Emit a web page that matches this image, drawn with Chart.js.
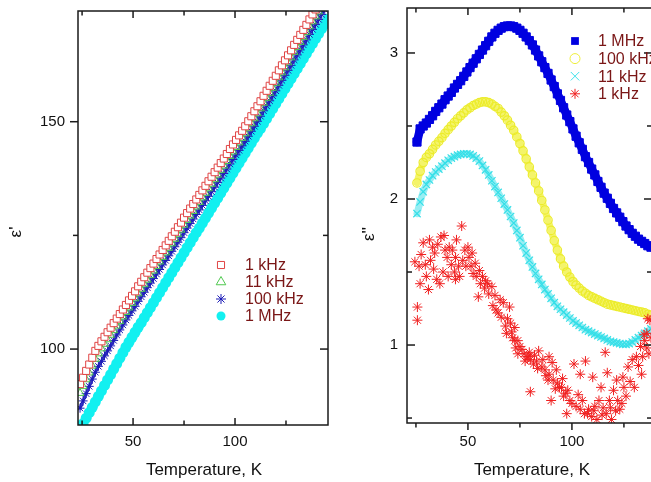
<!DOCTYPE html>
<html><head><meta charset="utf-8">
<script src="https://cdn.jsdelivr.net/npm/chart.js"></script>
<style>
html,body{margin:0;padding:0;background:#fff;overflow:hidden;width:651px;height:482px;}
#wl{position:absolute;left:0;top:0;width:340px;height:482px;}
#wr{position:absolute;left:330px;top:0;width:340px;height:482px;}
</style></head><body>
<div id="wl"><canvas id="cl" width="340" height="482"></canvas></div>
<div id="wr"><canvas id="cr" width="340" height="482"></canvas></div>
<script>
// ---------- LEFT PANEL: eps' vs T ----------
const tempL = [24,25.5,27,28.5,30,31.5,33,34.5,36,37.5,39,40.5,42,43.5,45,46.5,48,49.5,51,52.5,54,55.5,57,58.5,60,61.5,63,64.5,66,67.5,69,70.5,72,73.5,75,76.5,78,79.5,81,82.5,84,85.5,87,88.5,90,91.5,93,94.5,96,97.5,99,100.5,102,103.5,105,106.5,108,109.5,111,112.5,114,115.5,117,118.5,120,121.5,123,124.5,126,127.5,129,130.5,132,133.5,135,136.5,138,139.5,141,142.5,144,145.5];
const epsL_1kHz = [92.3,93.7,95.2,96.6,98.1,99.6,100.7,101.7,102.7,103.7,104.7,105.7,106.7,107.7,108.7,109.7,110.7,111.7,112.7,113.8,114.8,115.8,116.8,117.8,118.8,119.8,120.8,121.8,122.8,123.8,124.8,125.8,126.8,127.8,128.9,129.9,130.9,131.9,132.9,133.9,134.9,135.9,136.9,137.9,138.9,139.9,140.9,141.9,142.9,144.0,145.0,146.0,147.0,148.0,149.0,150.1,151.2,152.3,153.4,154.5,155.7,156.8,157.9,159.0,160.1,161.3,162.4,163.5,164.6,165.7,166.9,168.0,169.1,170.2,171.3,172.5,173.6,174.7];
const epsL_11kHz = [90.3,91.8,93.3,94.8,96.3,97.8,99.0,100.1,101.1,102.1,103.1,104.1,105.1,106.1,107.1,108.1,109.1,110.1,111.1,112.2,113.2,114.2,115.2,116.2,117.2,118.2,119.2,120.2,121.2,122.2,123.2,124.2,125.2,126.2,127.3,128.3,129.3,130.3,131.3,132.3,133.3,134.3,135.3,136.3,137.3,138.3,139.3,140.3,141.3,142.4,143.4,144.4,145.4,146.4,147.4,148.5,149.6,150.7,151.8,152.9,154.1,155.2,156.3,157.4,158.5,159.7,160.8,161.9,163.0,164.1,165.3,166.4,167.5,168.6,169.7,170.9,172.0,173.1,174.2];
const epsL_100kHz = [87.0,88.6,90.2,91.8,93.4,94.9,96.2,97.3,98.5,99.6,100.7,101.9,103.1,104.2,105.3,106.4,107.4,108.4,109.4,110.5,111.5,112.5,113.5,114.5,115.5,116.5,117.5,118.5,119.5,120.5,121.5,122.5,123.5,124.5,125.6,126.6,127.6,128.6,129.6,130.6,131.6,132.6,133.6,134.6,135.6,136.6,137.6,138.6,139.6,140.7,141.7,142.7,143.7,144.7,145.7,146.8,147.9,149.0,150.1,151.2,152.4,153.5,154.6,155.7,156.8,158.0,159.1,160.2,161.3,162.4,163.6,164.7,165.8,166.9,168.0,169.2,170.3,171.4,172.5,173.6,174.7];
const epsL_1MHz = [82.4,83.6,84.8,86.0,87.2,88.4,89.6,90.8,92.0,93.2,94.4,95.6,96.8,98.0,99.2,100.4,101.5,102.6,103.7,104.8,105.8,106.9,108.0,109.1,110.2,111.3,112.4,113.5,114.6,115.7,116.8,117.9,119.0,120.1,121.2,122.3,123.4,124.5,125.6,126.6,127.7,128.8,129.9,131.0,132.1,133.2,134.3,135.4,136.5,137.6,138.7,139.8,140.9,142.0,143.1,144.2,145.3,146.4,147.5,148.5,149.6,150.7,151.8,152.9,154.0,155.1,156.2,157.3,158.4,159.5,160.6,161.7,162.8,163.9,165.0,166.1,167.2,168.3,169.4,170.5,171.5,172.6];
const leftXTicks = [50, 100];
const leftYTicks = [100, 150];

// ---------- RIGHT PANEL: eps'' vs T ----------
const tempR = [25.5,27,28.5,30,31.5,33,34.5,36,37.5,39,40.5,42,43.5,45,46.5,48,49.5,51,52.5,54,55.5,57,58.5,60,61.5,63,64.5,66,67.5,69,70.5,72,73.5,75,76.5,78,79.5,81,82.5,84,85.5,87,88.5,90,91.5,93,94.5,96,97.5,99,100.5,102,103.5,105,106.5,108,109.5,111,112.5,114,115.5,117,118.5,120,121.5,123,124.5,126,127.5,129,130.5,132,133.5,135,136.5,138];
const epsR_1MHz = [2.39,2.48,2.50,2.52,2.545,2.57,2.60,2.625,2.65,2.68,2.705,2.73,2.76,2.785,2.81,2.84,2.87,2.90,2.93,2.96,2.99,3.02,3.05,3.08,3.11,3.135,3.155,3.17,3.18,3.185,3.185,3.18,3.17,3.155,3.135,3.11,3.085,3.055,3.02,2.98,2.94,2.90,2.86,2.815,2.77,2.72,2.675,2.625,2.575,2.53,2.48,2.43,2.385,2.34,2.29,2.25,2.205,2.165,2.12,2.08,2.04,2.005,1.97,1.935,1.905,1.875,1.845,1.815,1.79,1.765,1.745,1.725,1.71,1.695,1.68,1.67];
const epsR_100kHz = [2.11,2.19,2.25,2.285,2.31,2.34,2.37,2.395,2.42,2.45,2.475,2.50,2.525,2.55,2.57,2.59,2.61,2.625,2.64,2.65,2.66,2.665,2.665,2.66,2.65,2.635,2.62,2.595,2.57,2.54,2.505,2.47,2.425,2.38,2.33,2.275,2.22,2.165,2.11,2.055,1.99,1.925,1.855,1.785,1.715,1.65,1.59,1.54,1.50,1.465,1.435,1.41,1.39,1.37,1.355,1.34,1.33,1.32,1.31,1.30,1.29,1.28,1.275,1.27,1.265,1.26,1.255,1.25,1.245,1.24,1.235,1.23,1.225,1.22,1.21,1.205];
const epsR_11kHz = [1.90,1.98,2.05,2.10,2.13,2.16,2.185,2.205,2.225,2.245,2.265,2.28,2.29,2.30,2.305,2.31,2.31,2.305,2.295,2.28,2.26,2.23,2.20,2.165,2.125,2.085,2.045,2.005,1.965,1.925,1.88,1.835,1.785,1.735,1.68,1.63,1.58,1.535,1.49,1.45,1.415,1.38,1.35,1.32,1.29,1.265,1.245,1.225,1.205,1.185,1.165,1.15,1.135,1.12,1.105,1.095,1.085,1.075,1.065,1.055,1.045,1.035,1.025,1.02,1.015,1.01,1.005,1.005,1.01,1.02,1.035,1.05,1.065,1.08,1.095,1.11];
const tempR_1kHz = [25.7,25.7,24.5,26.5,27,27.5,28.5,29.5,30,31,31.5,32,33,33.5,34,35,35.5,36.5,37,38,38.5,39,40,40.5,41,42,42.5,43.5,44,44,44.5,45.5,46,47,47.5,48.5,49,50,50.5,51.5,52,52.5,53.5,54,55,55.5,56,57,58,58.5,59.5,60,61.5,62,63,63.5,64.5,65.5,66,67,68,68.5,69,70,70.5,71,71.5,72.5,72.5,73,74,74,75,76,77,77.5,78.5,79,79.5,80,80,81.5,82,83,83.5,84,85.5,86,87,87.5,88.5,89,89,90,90.5,91,92,92.5,93,94,95,95.5,96,97,97.5,98,99,100,101,102,103,104,104,105,106,106.5,107.5,108,109.5,110,110.5,111,112,113,114,114.5,115,116,116.5,117,118,118.5,119,120,121,121.5,122,123,124,124.5,125,126,127,128,129,130,131,132,133,133.5,134,134.7,135,136,136,136.5,137,137.5,138];
const epsR_1kHz = [1.26,1.17,1.57,1.54,1.42,1.62,1.70,1.55,1.47,1.38,1.72,1.58,1.67,1.52,1.63,1.45,1.69,1.42,1.74,1.50,1.75,1.65,1.60,1.47,1.67,1.55,1.65,1.50,1.60,1.45,1.72,1.54,1.47,1.815,1.58,1.65,1.54,1.67,1.60,1.54,1.63,1.49,1.56,1.47,1.33,1.51,1.42,1.47,1.39,1.44,1.42,1.35,1.40,1.27,1.34,1.24,1.22,1.31,1.19,1.29,1.13,1.08,1.18,1.26,1.15,1.09,1.05,1.12,1.03,0.98,1.03,0.94,0.99,0.97,0.94,0.89,0.92,0.92,0.95,0.90,0.68,0.87,0.93,0.89,0.84,0.96,0.85,0.90,0.83,0.79,0.76,0.92,0.80,0.62,0.88,0.76,0.70,0.83,0.74,0.71,0.71,0.77,0.65,0.67,0.53,0.69,0.62,0.60,0.87,0.58,0.66,0.56,0.80,0.62,0.53,0.89,0.53,0.56,0.51,0.78,0.55,0.58,0.49,0.62,0.71,0.52,0.57,0.95,0.53,0.81,0.62,0.57,0.49,0.69,0.55,0.76,0.62,0.56,0.60,0.78,0.71,0.65,0.85,0.75,0.90,0.71,0.92,0.86,0.99,0.80,0.92,1.07,1.03,1.08,0.98,1.18,0.94,1.17,1.05];
const rightXTicks = [50, 100];
const rightYTicks = [1, 2, 3];

// ---------- helpers ----------
const FONT = "Arial, 'Liberation Sans', sans-serif";
Chart.defaults.font.family = FONT;
Chart.defaults.color = '#111';
const pts = (xs, ys) => ys.map((v, i) => ({x: xs[i], y: v}));

function mark(ctx, m, x, y) {
  const r = m.r;
  ctx.save();
  ctx.lineWidth = m.bw; ctx.strokeStyle = m.stroke; ctx.fillStyle = m.fill || 'rgba(0,0,0,0)';
  ctx.beginPath();
  if (m.style === 'rect') { const s = r * Math.SQRT1_2; ctx.rect(x - s, y - s, 2 * s, 2 * s); ctx.fill(); if (m.bw) ctx.stroke(); }
  else if (m.style === 'circle') { ctx.arc(x, y, r, 0, Math.PI * 2); ctx.fill(); if (m.bw) ctx.stroke(); }
  else if (m.style === 'triangle') { ctx.moveTo(x, y - r); ctx.lineTo(x + r * 0.87, y + r * 0.5); ctx.lineTo(x - r * 0.87, y + r * 0.5); ctx.closePath(); ctx.stroke(); }
  else if (m.style === 'crossRot') { const d = r * 0.707; ctx.moveTo(x - d, y - d); ctx.lineTo(x + d, y + d); ctx.moveTo(x + d, y - d); ctx.lineTo(x - d, y + d); ctx.stroke(); }
  else if (m.style === 'star') { const d = r * 0.707; ctx.moveTo(x - r, y); ctx.lineTo(x + r, y); ctx.moveTo(x, y - r); ctx.lineTo(x, y + r); ctx.moveTo(x - d, y - d); ctx.lineTo(x + d, y + d); ctx.moveTo(x + d, y - d); ctx.lineTo(x - d, y + d); ctx.stroke(); }
  ctx.restore();
}

const deco = {
  id: 'deco',
  afterDatasetsDraw(chart, args, o) {
    const ctx = chart.ctx, a = chart.chartArea, xs = chart.scales.x, ys = chart.scales.y;
    ctx.save();
    ctx.strokeStyle = '#1a1a1a'; ctx.lineWidth = 1.5;
    ctx.strokeRect(a.left, a.top, a.right - a.left, a.bottom - a.top);
    const ln = (x1, y1, x2, y2) => { ctx.beginPath(); ctx.moveTo(x1, y1); ctx.lineTo(x2, y2); ctx.stroke(); };
    const bd = o.bottomOut ? 1 : -1, ld = o.leftOut ? -1 : 1;
    o.xMinor.concat(o.xMajor).forEach(v => {
      const L = o.xMajor.includes(v) ? 7 : 4.5, x = xs.getPixelForValue(v);
      if (x < a.left + 1 || x > a.right - 1) return;
      ln(x, a.top, x, a.top + L); ln(x, a.bottom, x, a.bottom + bd * L);
    });
    o.yMinor.concat(o.yMajor).forEach(v => {
      const L = o.yMajor.includes(v) ? 8 : 5, y = ys.getPixelForValue(v);
      if (y < a.top + 1 || y > a.bottom - 1) return;
      ln(a.left, y, a.left + ld * L, y); ln(a.right, y, a.right - L, y);
    });
    // axis titles
    ctx.fillStyle = '#111'; ctx.font = '17px ' + FONT; ctx.textAlign = 'center'; ctx.textBaseline = 'middle';
    ctx.fillText('Temperature, K', o.xTitle[0], o.xTitle[1]);
    ctx.save(); ctx.translate(o.yTitle[0], o.yTitle[1]); ctx.rotate(-Math.PI / 2);
    ctx.fillText(o.yTitleText, 0, 0); ctx.restore();
    // legend
    ctx.font = '16px ' + FONT; ctx.textAlign = 'left';
    o.legend.items.forEach((it, i) => {
      const y = o.legend.y0 + i * o.legend.dy;
      mark(ctx, it.m, o.legend.mx, y);
      ctx.fillStyle = '#7a1616';
      ctx.fillText(it.label, o.legend.tx, y + 1);
    });
    ctx.restore();
  }
};

function ds(label, data, m) {
  return { label, data, showLine: !!m.lineW, pointStyle: m.style, pointRadius: m.r, pointHoverRadius: m.r,
    pointBorderColor: m.stroke, pointBackgroundColor: m.fill || 'rgba(0,0,0,0)', pointBorderWidth: m.bw,
    borderColor: m.lineColor || m.stroke, backgroundColor: m.fill || 'rgba(0,0,0,0)', borderWidth: m.lineW || m.bw,
    borderJoinStyle: 'round', borderCapStyle: 'round', clip: 0 };
}

function makeChart(id, cfg) {
  return new Chart(document.getElementById(id), {
    type: 'scatter',
    data: { datasets: cfg.datasets },
    options: {
      responsive: false, animation: false, events: [],
      layout: { padding: cfg.pad },
      plugins: { legend: { display: false }, tooltip: { enabled: false }, deco: cfg.deco },
      scales: {
        x: { type: 'linear', min: cfg.xr[0], max: cfg.xr[1],
          grid: { display: false, drawTicks: false }, border: { display: false },
          afterBuildTicks: s => { s.ticks = cfg.xTicks.map(v => ({ value: v })); },
          afterFit: s => { s.height = cfg.xh; s.paddingLeft = 0; s.paddingRight = 0; s.paddingTop = 0; s.paddingBottom = 0; },
          ticks: { font: { size: 15 }, color: '#111', padding: cfg.xpad, maxRotation: 0 } },
        y: { type: 'linear', min: cfg.yr[0], max: cfg.yr[1],
          grid: { display: false, drawTicks: false }, border: { display: false },
          afterBuildTicks: s => { s.ticks = cfg.yTicks.map(v => ({ value: v })); },
          afterFit: s => { s.width = cfg.yw; s.paddingTop = 0; s.paddingBottom = 0; s.paddingLeft = 0; s.paddingRight = 0; },
          ticks: { font: { size: 15 }, color: '#111', padding: cfg.ypad } }
      }
    },
    plugins: [deco]
  });
}

// left markers
const mL1k = { style: 'rect', r: 5, stroke: '#e04444', fill: '#ffffff', bw: 1 };
const mL11k = { style: 'triangle', r: 4.5, stroke: '#4fc84f', fill: null, bw: 1 };
const mL100k = { style: 'star', r: 4.5, stroke: '#1c1cb8', fill: null, bw: 1, lineW: 3, lineColor: '#3434c4' };
const mL1M = { style: 'circle', r: 5.5, stroke: '#12f0f0', fill: '#12f0f0', bw: 0 };

makeChart('cl', {
  pad: { top: 11, right: 12, left: 0, bottom: 0 },
  xr: [23, 145.6], yr: [83.3, 174.35], xh: 57, yw: 78, xpad: 8, ypad: 13,
  xTicks: leftXTicks, yTicks: leftYTicks,
  datasets: [
    ds('1 kHz', pts(tempL, epsL_1kHz), mL1k),
    ds('11 kHz', pts(tempL, epsL_11kHz), mL11k),
    ds('100 kHz', pts(tempL, epsL_100kHz), mL100k),
    ds('1 MHz', pts(tempL, epsL_1MHz), mL1M)
  ],
  deco: { bottomOut: false, leftOut: true, xMajor: [50, 100], xMinor: [25, 75, 125], yMajor: [100, 150], yMinor: [125],
    xTitle: [204, 470], yTitle: [16, 232], yTitleText: "\u03B5'",
    legend: { mx: 221, tx: 245, y0: 265, dy: 17, items: [
      { label: '1 kHz', m: { style: 'rect', r: 5, stroke: '#e04444', fill: null, bw: 1 } },
      { label: '11 kHz', m: { style: 'triangle', r: 5.5, stroke: '#4fc84f', fill: null, bw: 1 } },
      { label: '100 kHz', m: { style: 'star', r: 5, stroke: '#1c1cb8', fill: null, bw: 1 } },
      { label: '1 MHz', m: { style: 'circle', r: 4.5, stroke: '#12f0f0', fill: '#12f0f0', bw: 0 } } ] } }
});

// right markers
const mR1M = { style: 'rect', r: 5.8, stroke: '#0000e0', fill: '#0000e0', bw: 1, lineW: 8.5, lineColor: '#0000e0' };
const mR100k = { style: 'circle', r: 4.2, stroke: '#ecec2c', fill: null, bw: 1.2, lineW: 7, lineColor: '#f4f46a' };
const mR11k = { style: 'crossRot', r: 5.2, stroke: '#34dfe8', fill: null, bw: 1.2, lineW: 7, lineColor: '#98eef3' };
const mR1k = { style: 'star', r: 5, stroke: '#f02020', fill: null, bw: 1 };

makeChart('cr', {
  pad: { top: 8, right: 18, left: 0, bottom: 0 },
  xr: [20.7, 138.5], yr: [0.466, 3.308], xh: 59, yw: 77, xpad: 10, ypad: 9,
  xTicks: rightXTicks, yTicks: rightYTicks,
  datasets: [
    ds('1 kHz', pts(tempR_1kHz, epsR_1kHz), mR1k),
    ds('11 kHz', pts(tempR, epsR_11kHz), mR11k),
    ds('100 kHz', pts(tempR, epsR_100kHz), mR100k),
    ds('1 MHz', pts(tempR, epsR_1MHz), mR1M)
  ],
  deco: { bottomOut: true, leftOut: false, xMajor: [50, 100], xMinor: [25, 75, 125], yMajor: [1, 2, 3], yMinor: [0.5, 1.5, 2.5],
    xTitle: [202, 470], yTitle: [39, 234], yTitleText: "\u03B5''",
    legend: { mx: 245, tx: 268, y0: 41, dy: 17.6, items: [
      { label: '1 MHz', m: { style: 'rect', r: 5.5, stroke: '#0000e0', fill: '#0000e0', bw: 0 } },
      { label: '100 kHz', m: { style: 'circle', r: 5, stroke: '#eeee3a', fill: null, bw: 1 } },
      { label: '11 kHz', m: { style: 'crossRot', r: 6, stroke: '#3fe2ea', fill: null, bw: 1 } },
      { label: '1 kHz', m: { style: 'star', r: 5, stroke: '#f02020', fill: null, bw: 1 } } ] } }
});
</script>
</body></html>
